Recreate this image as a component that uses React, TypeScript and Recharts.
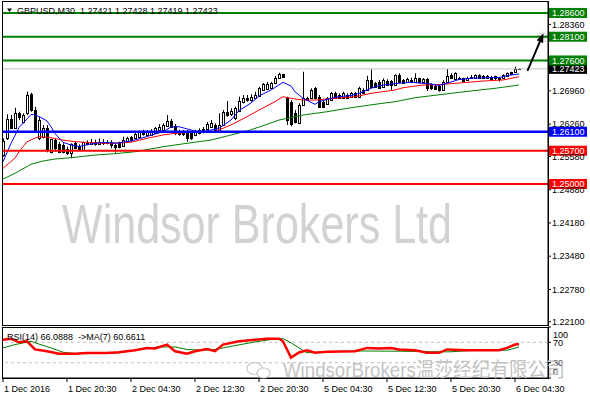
import { ComposedChart, Bar, Line, XAxis, YAxis, ReferenceLine } from 'recharts'

// GBPUSD M30, 1 Dec 12:30 .. 6 Dec 05:00 (130 bars)
const barOpen = [
  1.25609, 1.25961, 1.26367, 1.26184, 1.26488, 1.26311, 1.26488, 1.26888, 1.26557, 1.25967,
  1.25995, 1.26184, 1.25679, 1.25925, 1.25835, 1.25820, 1.25729, 1.25645, 1.25856, 1.25805,
  1.25715, 1.25890, 1.25835, 1.25877, 1.25835, 1.25890, 1.25856, 1.25877, 1.25820, 1.25856,
  1.25805, 1.25904, 1.25995, 1.25961, 1.25995, 1.26115, 1.26031, 1.26031, 1.26066, 1.26136,
  1.26136, 1.26220, 1.26325, 1.26220, 1.26115, 1.26100, 1.26100, 1.26073, 1.26031, 1.26066,
  1.26157, 1.26157, 1.26205, 1.26241, 1.26115, 1.26241, 1.26521, 1.26466, 1.26382, 1.26536,
  1.26732, 1.26816, 1.26767, 1.26816, 1.26858, 1.26978, 1.26999, 1.27020, 1.27119, 1.27224,
  1.27309, 1.26803, 1.26732, 1.26488, 1.26277, 1.26662, 1.26816, 1.26803, 1.27014, 1.26837,
  1.26732, 1.26677, 1.26767, 1.26908, 1.26873, 1.26816, 1.26873, 1.26837, 1.26908, 1.26837,
  1.26978, 1.26978, 1.27189, 1.27119, 1.27153, 1.27047, 1.27167, 1.27167, 1.27083, 1.27294,
  1.27189, 1.27140, 1.27189, 1.27140, 1.27224, 1.27140, 1.27210, 1.27098, 1.27069, 1.27062,
  1.26978, 1.27153, 1.27294, 1.27210, 1.27237, 1.27224, 1.27189, 1.27224, 1.27224, 1.27294,
  1.27279, 1.27237, 1.27258, 1.27266, 1.27237, 1.27224, 1.27279, 1.27351, 1.27351, 1.27421,
]
const barHigh = [
  1.25961, 1.26466, 1.26452, 1.26605, 1.26521, 1.26488, 1.26942, 1.26921, 1.26626, 1.26410,
  1.26241, 1.26241, 1.25946, 1.25961, 1.25890, 1.25856, 1.25784, 1.25856, 1.25890, 1.25835,
  1.25890, 1.25919, 1.25946, 1.25932, 1.25961, 1.25946, 1.25925, 1.25919, 1.25856, 1.25890,
  1.25995, 1.25995, 1.26010, 1.26079, 1.26121, 1.26142, 1.26136, 1.26157, 1.26199, 1.26262,
  1.26277, 1.26452, 1.26367, 1.26262, 1.26142, 1.26136, 1.26136, 1.26115, 1.26142, 1.26172,
  1.26199, 1.26304, 1.26346, 1.26277, 1.26488, 1.26557, 1.26746, 1.26593, 1.26626, 1.26837,
  1.26873, 1.26873, 1.26888, 1.26942, 1.27047, 1.27126, 1.27153, 1.27147, 1.27273, 1.27342,
  1.27321, 1.26837, 1.26767, 1.26557, 1.26698, 1.27363, 1.26837, 1.27014, 1.27041, 1.26873,
  1.26767, 1.26831, 1.26936, 1.26942, 1.26908, 1.26942, 1.26908, 1.26936, 1.26936, 1.27047,
  1.27014, 1.27279, 1.27414, 1.27147, 1.27189, 1.27224, 1.27203, 1.27189, 1.27309, 1.27330,
  1.27210, 1.27237, 1.27237, 1.27330, 1.27237, 1.27231, 1.27231, 1.27119, 1.27083, 1.27083,
  1.27182, 1.27420, 1.27330, 1.27351, 1.27258, 1.27237, 1.27258, 1.27294, 1.27309, 1.27309,
  1.27294, 1.27294, 1.27273, 1.27279, 1.27252, 1.27309, 1.27351, 1.27363, 1.27469, 1.27428,
]
const barLow = [
  1.25574, 1.25925, 1.26157, 1.26172, 1.26346, 1.26277, 1.26452, 1.26521, 1.26100, 1.25925,
  1.25961, 1.25666, 1.25645, 1.25679, 1.25666, 1.25645, 1.25609, 1.25540, 1.25729, 1.25694,
  1.25694, 1.25820, 1.25820, 1.25805, 1.25820, 1.25820, 1.25835, 1.25751, 1.25658, 1.25751,
  1.25784, 1.25877, 1.25890, 1.25946, 1.25974, 1.26016, 1.26010, 1.26016, 1.26052, 1.26115,
  1.26115, 1.26199, 1.26184, 1.26031, 1.26016, 1.26010, 1.25890, 1.25925, 1.26016, 1.26045,
  1.26066, 1.26136, 1.26184, 1.26115, 1.26094, 1.26220, 1.26416, 1.26431, 1.26346, 1.26515,
  1.26698, 1.26732, 1.26732, 1.26803, 1.26837, 1.26957, 1.26978, 1.26999, 1.27098, 1.27210,
  1.27245, 1.26241, 1.26214, 1.26277, 1.26256, 1.26641, 1.26746, 1.26789, 1.26789, 1.26605,
  1.26599, 1.26662, 1.26746, 1.26789, 1.26789, 1.26803, 1.26789, 1.26816, 1.26810, 1.26816,
  1.26894, 1.26957, 1.27020, 1.27035, 1.26999, 1.27035, 1.27062, 1.26978, 1.27062, 1.27140,
  1.27105, 1.27126, 1.27126, 1.27126, 1.27119, 1.27126, 1.26957, 1.26978, 1.26984, 1.26942,
  1.26963, 1.27140, 1.27224, 1.27189, 1.27189, 1.27153, 1.27174, 1.27210, 1.27210, 1.27224,
  1.27210, 1.27224, 1.27195, 1.27189, 1.27153, 1.27210, 1.27266, 1.27294, 1.27336, 1.27419,
]
const barClose = [
  1.25904, 1.26367, 1.26184, 1.26488, 1.26416, 1.26452, 1.26873, 1.26557, 1.26115, 1.26346,
  1.26184, 1.25715, 1.25940, 1.25751, 1.25679, 1.25679, 1.25645, 1.25835, 1.25751, 1.25715,
  1.25890, 1.25835, 1.25890, 1.25835, 1.25890, 1.25856, 1.25877, 1.25820, 1.25784, 1.25784,
  1.25925, 1.25961, 1.25925, 1.26045, 1.26087, 1.26045, 1.26100, 1.26100, 1.26172, 1.26205,
  1.26241, 1.26325, 1.26205, 1.26066, 1.26045, 1.26045, 1.25961, 1.25967, 1.26100, 1.26136,
  1.26087, 1.26256, 1.26277, 1.26136, 1.26241, 1.26521, 1.26452, 1.26536, 1.26593, 1.26746,
  1.26816, 1.26767, 1.26837, 1.26873, 1.27014, 1.27098, 1.27105, 1.27119, 1.27237, 1.27309,
  1.27258, 1.26346, 1.26256, 1.26311, 1.26662, 1.26803, 1.26767, 1.26978, 1.26803, 1.26626,
  1.26626, 1.26803, 1.26908, 1.26803, 1.26803, 1.26908, 1.26803, 1.26908, 1.26824, 1.27014,
  1.26908, 1.27189, 1.27047, 1.27047, 1.27014, 1.27189, 1.27083, 1.27083, 1.27288, 1.27153,
  1.27119, 1.27210, 1.27140, 1.27237, 1.27140, 1.27210, 1.27014, 1.27014, 1.26999, 1.26978,
  1.27153, 1.27279, 1.27237, 1.27330, 1.27203, 1.27167, 1.27237, 1.27258, 1.27294, 1.27237,
  1.27224, 1.27279, 1.27210, 1.27224, 1.27210, 1.27294, 1.27330, 1.27309, 1.27420, 1.27423,
]

// moving averages: [bar index, price]
const maFast: [number, number][] = [
  [0, 1.25468], [2, 1.25856], [4, 1.26188], [7, 1.26462], [8, 1.26458], [10, 1.26377], [11, 1.26325],
  [12, 1.26205], [13, 1.26062], [15, 1.25877], [17, 1.25820], [19, 1.25788], [22, 1.25841], [25, 1.25877],
  [28, 1.25856], [32, 1.25904], [36, 1.25999], [40, 1.26100], [42, 1.26199], [44, 1.26205], [47, 1.26136],
  [49, 1.26083], [52, 1.26136], [54, 1.26172], [57, 1.26346], [59, 1.26546], [62, 1.26704], [64, 1.26852],
  [67, 1.26978], [70, 1.27140], [72, 1.27062], [73, 1.26942], [75, 1.26803], [78, 1.26677], [79, 1.26732],
  [82, 1.26803], [84, 1.26837], [87, 1.26862], [89, 1.26904], [92, 1.27014], [94, 1.27069], [98, 1.27115],
  [102, 1.27140], [107, 1.27105], [109, 1.27073], [112, 1.27147], [114, 1.27199], [118, 1.27231],
  [122, 1.27237], [124, 1.27241], [127, 1.27294], [129, 1.27315],
]
const maMid: [number, number][] = [
  [0, 1.25329], [3, 1.25546], [4, 1.25679], [6, 1.25890], [8, 1.25967], [9, 1.25995], [12, 1.25974],
  [15, 1.25925], [18, 1.25890], [22, 1.25868], [26, 1.25856], [30, 1.25868], [32, 1.25879], [36, 1.25961],
  [40, 1.26031], [43, 1.26066], [47, 1.26087], [50, 1.26087], [53, 1.26104], [57, 1.26241], [61, 1.26416],
  [64, 1.26557], [68, 1.26732], [70, 1.26837], [73, 1.26789], [75, 1.26767], [78, 1.26767], [83, 1.26803],
  [88, 1.26837], [92, 1.26908], [98, 1.26978], [100, 1.27026], [105, 1.27083], [110, 1.27098],
  [115, 1.27132], [120, 1.27167], [125, 1.27189], [129, 1.27258],
]
const maSlow: [number, number][] = [
  [0, 1.25104], [3, 1.25224], [7, 1.25414], [10, 1.25483], [13, 1.25525], [18, 1.25561], [23, 1.25609],
  [28, 1.25637], [33, 1.25679], [40, 1.25784], [46, 1.25856], [52, 1.25925], [57, 1.26031], [61, 1.26115],
  [65, 1.26226], [69, 1.26346], [75, 1.26452], [81, 1.26521], [87, 1.26605], [93, 1.26677], [98, 1.26732],
  [103, 1.26816], [110, 1.26888], [117, 1.26957], [123, 1.27014], [129, 1.27083],
]

// RSI(14) and its MA(7)
const rsiValues: [number, number][] = [
  [0, 75], [2, 77], [4, 70], [6, 72], [8, 56], [11, 52.5], [14, 47.5], [18, 47.5], [21, 49], [26, 49],
  [29, 50.5], [33, 54.5], [36, 59], [38, 58], [41, 65.5], [43, 52.5], [46, 47.5], [48, 52.5], [51, 57],
  [53, 52.5], [55, 65.5], [59, 72], [63, 75], [66, 77], [69, 77], [70, 72], [72, 40], [74, 50], [76, 54.5],
  [78, 49.4], [81, 51.4], [88, 52.5], [91, 59], [94, 58], [97, 59], [99, 56], [103, 54.5], [106, 49.4],
  [109, 49.4], [111, 56], [116, 54.5], [120, 54.5], [124, 54.5], [126, 59], [128, 65.5], [129, 66.09],
]
const rsiSignal: [number, number][] = [
  [0, 59], [3, 65.5], [7, 72], [8, 69], [12, 59], [15, 50.6], [18, 48], [24, 49.4], [29, 49.4], [34, 55.8],
  [39, 61], [43, 61], [46, 56], [50, 54.5], [53, 56], [58, 63.6], [63, 70.7], [68, 76.6], [70, 77.2],
  [72, 69], [76, 49.4], [80, 51.5], [90, 53], [100, 52.5], [107, 51.4], [112, 51.4], [118, 54.5],
  [126, 54.5], [129, 60.66],
]

const timeTicks = [0, 16, 32, 48, 64, 80, 96, 112, 128]
const timeLabels = [
  '1 Dec 2016', '1 Dec 20:30', '2 Dec 04:30', '2 Dec 12:30', '2 Dec 20:30',
  '5 Dec 04:30', '5 Dec 12:30', '5 Dec 20:30', '6 Dec 04:30',
]
const priceTicks = [1.2836, 1.2696, 1.2626, 1.2558, 1.2488, 1.2418, 1.2348, 1.2278, 1.221]
const rsiTicks = [0, 30, 70, 100]
const resistance = [1.286, 1.281, 1.276]
const support = [1.261, 1.257, 1.25]
const bidPrice = 1.27423
const arrowFrom = { x: 131.2, y: 1.27399 }
const arrowTo = { x: 135.1, y: 1.28172 }

const FONT = '"Liberation Sans", Arial, sans-serif'
const X_DOMAIN: [number, number] = [-0.25, 136.25]
const PRICE_DOMAIN: [number, number] = [1.22031, 1.28852]

type Row = {
  i: number
  o: number
  h: number
  l: number
  c: number
  range: [number, number]
  fast?: number
  mid?: number
  slow?: number
}

const rows: Row[] = barOpen.map((o, i) => ({
  i,
  o,
  h: barHigh[i],
  l: barLow[i],
  c: barClose[i],
  range: [barLow[i], barHigh[i]],
}))
maFast.forEach(([i, v]) => { rows[i].fast = v })
maMid.forEach(([i, v]) => { rows[i].mid = v })
maSlow.forEach(([i, v]) => { rows[i].slow = v })

const rsiRows: { i: number; rsi?: number; sig?: number }[] = barOpen.map((_, i) => ({ i }))
rsiValues.forEach(([i, v]) => { rsiRows[i].rsi = v })
rsiSignal.forEach(([i, v]) => { rsiRows[i].sig = v })

function Candle(props: any) {
  const { x, y, width, height, payload } = props
  if (!payload || x == null) return null
  const top = Math.min(y, y + height)
  const span = Math.abs(height)
  const k = payload.h === payload.l ? 0 : span / (payload.h - payload.l)
  const at = (v: number) => top + (payload.h - v) * k
  const cx = Math.round(x + width / 2) + 0.5
  const bodyTop = Math.round(at(Math.max(payload.o, payload.c))) + 0.5
  const bodyBot = Math.round(at(Math.min(payload.o, payload.c))) + 0.5
  const up = payload.c >= payload.o
  return (
    <g>
      <line x1={cx} x2={cx} y1={top} y2={top + span} stroke="#000" strokeWidth={1} />
      <rect
        x={cx - 1}
        y={bodyTop}
        width={2}
        height={Math.max(bodyBot - bodyTop, 0.01)}
        fill={up ? '#fff' : '#000'}
        stroke="#000"
        strokeWidth={1}
      />
    </g>
  )
}

function PriceTag(props: any) {
  const { viewBox, text, fill } = props
  if (!viewBox) return null
  const x = viewBox.x + viewBox.width
  const y = viewBox.y
  return (
    <g>
      <rect x={x} y={y - 5} width={39} height={10} fill={fill} />
      <text x={x + 4} y={y + 3.5} fill="#fff" fontSize={9} fontFamily={FONT}>
        {text}
      </text>
    </g>
  )
}

function Arrow(props: any) {
  const { x1, y1, x2, y2 } = props
  if (x1 == null) return null
  const a = Math.atan2(y2 - y1, x2 - x1)
  const len = 9
  const half = 3.5
  const bx = x2 - len * Math.cos(a)
  const by = y2 - len * Math.sin(a)
  const pts = [
    [x2, y2],
    [bx + half * Math.sin(a), by - half * Math.cos(a)],
    [bx - half * Math.sin(a), by + half * Math.cos(a)],
  ]
  return (
    <g>
      <circle cx={x2 - 1} cy={y2 + 4} r={6} fill="#000" opacity={0.08} />
      <line x1={x1} y1={y1} x2={bx} y2={by} stroke="#000" strokeWidth={2} strokeLinecap="round" />
      <polygon points={pts.map((p) => p.join(',')).join(' ')} fill="#000" />
    </g>
  )
}

function TimeTick(props: any) {
  const { x, y, payload } = props
  const k = timeTicks.indexOf(payload.value)
  return (
    <text x={x + 1} y={y + 8} fontSize={9} fontFamily={FONT} fill="#000">
      {timeLabels[k]}
    </text>
  )
}

function RsiTick(props: any) {
  const { x, y, payload } = props
  const shift = payload.value === 100 ? 7 : payload.value === 0 ? -7 : 0
  return (
    <text x={x + 2} y={y + shift + 3.5} fontSize={9} fontFamily={FONT} fill="#000">
      {payload.value}
    </text>
  )
}

export default function App() {
  const supportColors = ['#0000FF', '#FF0000', '#FF0000']
  return (
    <div style={{ position: 'relative', width: 590, height: 400, background: '#fff', overflow: 'hidden', fontFamily: FONT }}>
      <style>{'body{margin:0}'}</style>

      <svg width={590} height={400} style={{ position: 'absolute', left: 0, top: 0 }}>
        <text
          x={62}
          y={243}
          fontSize={55}
          fontFamily={'"Liberation Sans Narrow", "Liberation Sans", Arial, sans-serif'}
          fill="#D2D2D2"
          textLength={390}
          lengthAdjust="spacingAndGlyphs"
        >
          Windsor Brokers Ltd
        </text>
      </svg>

      <div style={{ position: 'absolute', left: 0, top: 0 }}>
        <ComposedChart width={590} height={326} data={rows} margin={{ top: 1, right: 0, bottom: 1, left: 2 }}>
          <XAxis type="number" dataKey="i" domain={X_DOMAIN} allowDataOverflow hide />
          <YAxis
            orientation="right"
            width={42}
            domain={PRICE_DOMAIN}
            allowDataOverflow
            ticks={priceTicks}
            interval={0}
            tickFormatter={(v: number) => v.toFixed(5)}
            tick={{ fontSize: 9, fill: '#000', fontFamily: FONT }}
            tickSize={3}
            tickMargin={1}
            axisLine={{ stroke: '#000' }}
            tickLine={{ stroke: '#000' }}
          />
          <Bar dataKey="range" barSize={3} isAnimationActive={false} shape={(p: any) => <Candle {...p} />} />
          <Line type="linear" dataKey="slow" stroke="#008000" strokeWidth={1} dot={false} connectNulls isAnimationActive={false} />
          <Line type="linear" dataKey="mid" stroke="#FF0000" strokeWidth={1} dot={false} connectNulls isAnimationActive={false} />
          <Line type="linear" dataKey="fast" stroke="#0000FF" strokeWidth={1} dot={false} connectNulls isAnimationActive={false} />
          <ReferenceLine
            y={bidPrice}
            stroke="#C0C0C0"
            strokeWidth={1}
            label={<PriceTag text={bidPrice.toFixed(5)} fill="#000" />}
          />
          {resistance.map((p) => (
            <ReferenceLine
              key={p}
              y={p}
              stroke="#008000"
              strokeWidth={2}
              label={<PriceTag text={p.toFixed(5)} fill="#008000" />}
            />
          ))}
          {support.map((p, k) => (
            <ReferenceLine
              key={p}
              y={p}
              stroke={supportColors[k]}
              strokeWidth={k === 0 ? 2.5 : 2}
              label={<PriceTag text={p.toFixed(5)} fill={supportColors[k]} />}
            />
          ))}
          <ReferenceLine segment={[arrowFrom, arrowTo]} ifOverflow="visible" shape={(p: any) => <Arrow {...p} />} />
        </ComposedChart>
      </div>

      <div style={{ position: 'absolute', left: 0, top: 326 }}>
        <ComposedChart width={590} height={74} data={rsiRows} margin={{ top: 1, right: 0, bottom: 0, left: 2 }}>
          <XAxis
            type="number"
            dataKey="i"
            domain={X_DOMAIN}
            allowDataOverflow
            ticks={timeTicks}
            interval={0}
            height={22}
            tickSize={4}
            axisLine={{ stroke: '#000' }}
            tickLine={{ stroke: '#000' }}
            tick={<TimeTick />}
          />
          <YAxis
            orientation="right"
            width={42}
            domain={[0, 100]}
            allowDataOverflow
            ticks={rsiTicks}
            interval={0}
            tickSize={3}
            tickMargin={0}
            axisLine={{ stroke: '#000' }}
            tickLine={{ stroke: '#000' }}
            tick={<RsiTick />}
          />
          <ReferenceLine y={70} stroke="#C0C0C0" strokeDasharray="3 3" />
          <ReferenceLine y={30} stroke="#C0C0C0" strokeDasharray="3 3" />
          <Line type="linear" dataKey="sig" stroke="#008000" strokeWidth={1} dot={false} connectNulls isAnimationActive={false} />
          <Line type="linear" dataKey="rsi" stroke="#FF0000" strokeWidth={2.5} dot={false} connectNulls isAnimationActive={false} />
        </ComposedChart>
      </div>

      <div style={{ position: 'absolute', left: 2, top: 1, width: 547, height: 325, border: '1px solid #000', boxSizing: 'border-box' }} />
      <div style={{ position: 'absolute', left: 2, top: 327, width: 547, height: 52, border: '1px solid #000', boxSizing: 'border-box' }} />

      <svg width={590} height={400} style={{ position: 'absolute', left: 0, top: 0, pointerEvents: 'none' }}>
        <polygon points="7,8.5 12,8.5 9.5,12" fill="#000" />
        <text x={17} y={14} fontSize={9} fontFamily={FONT} fill="#000" style={{ whiteSpace: 'pre' }}>
          GBPUSD,M30  1.27421 1.27428 1.27419 1.27423
        </text>
        <text x={7} y={340} fontSize={9} fontFamily={FONT} fill="#000" style={{ whiteSpace: 'pre' }}>
          RSI(14) 66.0888  -&gt;MA(7) 60.6611
        </text>
        <g fill="none" stroke="#C8C8C8" strokeWidth={1.2}>
          <ellipse cx={254.5} cy={368.5} rx={7.5} ry={6} />
          <ellipse cx={263.5} cy={373} rx={6.5} ry={5} fill="#fff" />
        </g>
        <text
          x={283}
          y={377}
          fontSize={20}
          fontFamily={'"Liberation Sans", "Noto Sans CJK SC", sans-serif'}
          fill="#C4C4C4"
          textLength={282}
          lengthAdjust="spacingAndGlyphs"
        >
          WindsorBrokers温莎经纪有限公司
        </text>
      </svg>
    </div>
  )
}
